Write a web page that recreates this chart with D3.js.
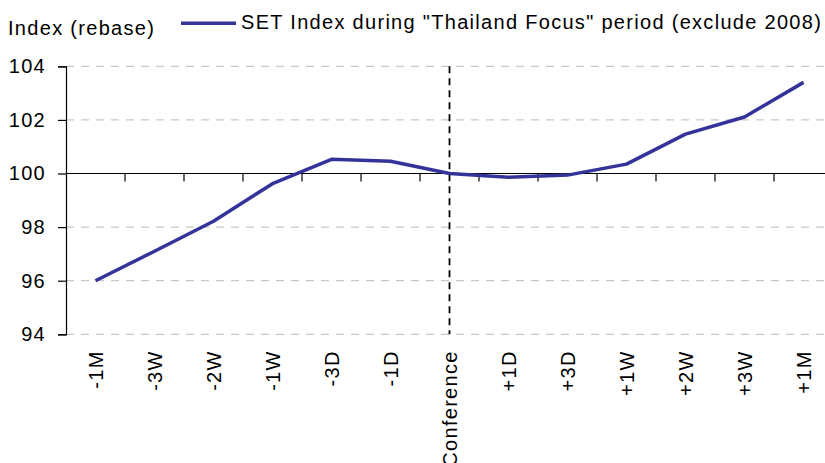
<!DOCTYPE html>
<html>
<head>
<meta charset="utf-8">
<script src="https://cdn.jsdelivr.net/npm/d3@7"></script>
<style>
  body { margin: 0; background: #fff; }
  svg text { font-family: "Liberation Sans", Arial, sans-serif; font-size: 20px; fill: #000; letter-spacing: 1.3px; }
</style>
</head>
<body>
<div id="chart"></div>
<script>
const categories = ["-1M", "-3W", "-2W", "-1W", "-3D", "-1D", "Conference", "+1D", "+3D", "+1W", "+2W", "+3W", "+1M"];
const setIndex = [96.0, 97.1, 98.22, 99.62, 100.53, 100.46, 100.0, 99.86, 99.94, 100.35, 101.47, 102.11, 103.4];
const yTicks = [94, 96, 98, 100, 102, 104];
const seriesName = "SET Index during \"Thailand Focus\" period (exclude 2008)";
const yTitle = "Index (rebase)";
const eventCategory = "Conference";

const margin = { top: 66.3, right: 0, bottom: 129, left: 66 };
const width = 767;
const height = 268;

const svg = d3
  .select("#chart")
  .append("svg")
  .attr("width", 825)
  .attr("height", 463);

const g = svg
  .append("g")
  .attr("transform", `translate(${margin.left},${margin.top})`);

const xScale = d3.scaleBand().domain(categories).range([0, width]);
const yScale = d3.scaleLinear().domain([94, 104]).range([height, 0]);

// dashed grid lines
g.append("g")
  .selectAll("line")
  .data(yTicks.filter((t) => t !== 100))
  .enter()
  .append("line")
  .attr("x1", 0)
  .attr("x2", width)
  .attr("y1", (d) => yScale(d))
  .attr("y2", (d) => yScale(d))
  .attr("stroke", "#c8c8c8")
  .attr("stroke-width", 1.3)
  .attr("stroke-dasharray", "8,7");

// y axis
const yAxis = d3.axisLeft(yScale).tickValues(yTicks).tickSize(8).tickPadding(12);
g.append("g")
  .attr("id", "y-axis")
  .call(yAxis)
  .call((s) => s.selectAll("path, line").attr("stroke", "#000").attr("stroke-width", 1.2))
  .call((s) => s.selectAll("text").attr("font-size", null).attr("font-family", null));

// x axis crossing at 100
const xAxisG = g
  .append("g")
  .attr("id", "x-axis")
  .attr("transform", `translate(0,${yScale(100)})`);

xAxisG
  .append("line")
  .attr("x1", 0)
  .attr("x2", width)
  .attr("stroke", "#000")
  .attr("stroke-width", 1.2);

xAxisG
  .selectAll(".tick-mark")
  .data(categories.slice(1))
  .enter()
  .append("line")
  .attr("class", "tick-mark")
  .attr("x1", (d) => xScale(d))
  .attr("x2", (d) => xScale(d))
  .attr("y1", 0)
  .attr("y2", 8)
  .attr("stroke", "#000")
  .attr("stroke-width", 1.2);

// category labels at the bottom
g.append("g")
  .selectAll("text")
  .data(categories)
  .enter()
  .append("text")
  .attr(
    "transform",
    (d) => `translate(${xScale(d) + xScale.bandwidth() / 2},${height + 16}) rotate(-90)`
  )
  .attr("text-anchor", "end")
  .attr("dy", "0.35em")
  .text((d) => d);

// conference marker
const cx = xScale(eventCategory) + xScale.bandwidth() / 2;
g.append("line")
  .attr("x1", cx)
  .attr("x2", cx)
  .attr("y1", 0)
  .attr("y2", height)
  .attr("stroke", "#000")
  .attr("stroke-width", 1.8)
  .attr("stroke-dasharray", "7,5");

// series line
const line = d3
  .line()
  .x((d, i) => xScale(categories[i]) + xScale.bandwidth() / 2)
  .y((d) => yScale(d));

g.append("path")
  .datum(setIndex)
  .attr("fill", "none")
  .attr("stroke", "#333399")
  .attr("stroke-width", 3.5)
  .attr("stroke-linejoin", "round")
  .attr("d", line);

// titles and legend
svg.append("text").attr("x", 8).attr("y", 35).text(yTitle);

svg
  .append("line")
  .attr("x1", 181)
  .attr("x2", 236)
  .attr("y1", 23.3)
  .attr("y2", 23.3)
  .attr("stroke", "#333399")
  .attr("stroke-width", 3.5);

svg.append("text").attr("x", 241).attr("y", 29).text(seriesName);
</script>
</body>
</html>
